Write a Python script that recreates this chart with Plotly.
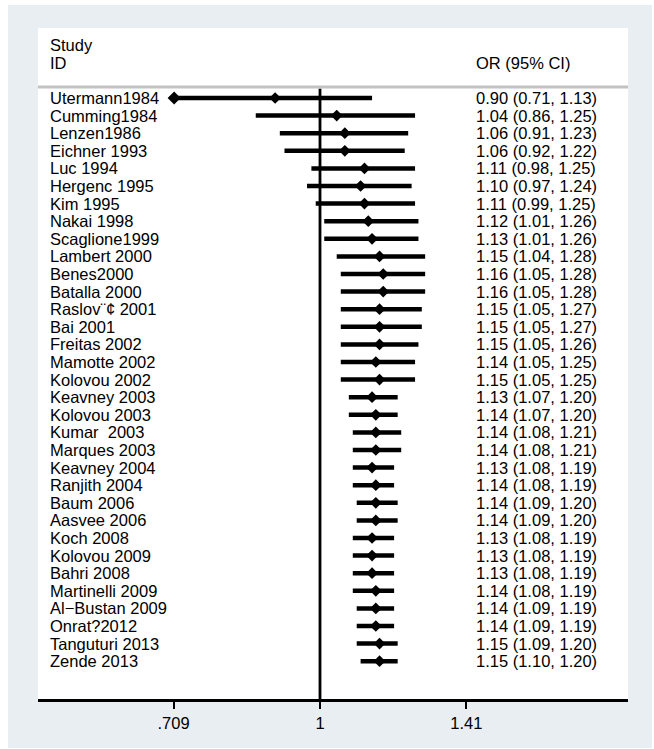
import plotly.graph_objects as go

W, H = 654, 749

studies = [
    "Utermann1984", "Cumming1984", "Lenzen1986", "Eichner 1993", "Luc 1994",
    "Hergenc 1995", "Kim 1995", "Nakai 1998", "Scaglione1999", "Lambert 2000",
    "Benes2000", "Batalla 2000", "Raslov\u00a8\u00a2 2001", "Bai 2001", "Freitas 2002",
    "Mamotte 2002", "Kolovou 2002", "Keavney 2003", "Kolovou 2003", "Kumar \u00a02003",
    "Marques 2003", "Keavney 2004", "Ranjith 2004", "Baum 2006", "Aasvee 2006",
    "Koch 2008", "Kolovou 2009", "Bahri 2008", "Martinelli 2009", "Al\u2212Bustan 2009",
    "Onrat?2012", "Tanguturi 2013", "Zende 2013",
]
or_est = [0.90, 1.04, 1.06, 1.06, 1.11, 1.10, 1.11, 1.12, 1.13, 1.15, 1.16, 1.16, 1.15,
          1.15, 1.15, 1.14, 1.15, 1.13, 1.14, 1.14, 1.14, 1.13, 1.14, 1.14, 1.14, 1.13,
          1.13, 1.13, 1.14, 1.14, 1.14, 1.15, 1.15]
ci_lo = [0.71, 0.86, 0.91, 0.92, 0.98, 0.97, 0.99, 1.01, 1.01, 1.04, 1.05, 1.05, 1.05,
         1.05, 1.05, 1.05, 1.05, 1.07, 1.07, 1.08, 1.08, 1.08, 1.08, 1.09, 1.09, 1.08,
         1.08, 1.08, 1.08, 1.09, 1.09, 1.09, 1.10]
ci_hi = [1.13, 1.25, 1.23, 1.22, 1.25, 1.24, 1.25, 1.26, 1.26, 1.28, 1.28, 1.28, 1.27,
         1.27, 1.26, 1.25, 1.25, 1.20, 1.20, 1.21, 1.21, 1.19, 1.19, 1.20, 1.20, 1.19,
         1.19, 1.19, 1.19, 1.19, 1.19, 1.20, 1.20]
tick_vals = [0.709, 1, 1.41]
tick_text = [".709", "1", "1.41"]

FONT = "Liberation Sans, Arial, sans-serif"
FS = 16.5
rows = list(range(len(studies)))

def px(x):
    return x / W

def py(y):
    return 1 - y / H

# CI line segments
xs, ys = [], []
for i in rows:
    xs += [ci_lo[i], ci_hi[i], None]
    ys += [i, i, None]

fig = go.Figure()
fig.add_trace(go.Scatter(x=xs, y=ys, mode="lines",
                         line=dict(color="black", width=4.5),
                         hoverinfo="skip", showlegend=False))
fig.add_trace(go.Scatter(x=or_est, y=rows, mode="markers",
                         marker=dict(symbol="diamond", size=9, color="black"),
                         showlegend=False))
# marker at the lower end of the first study's CI
fig.add_trace(go.Scatter(x=[ci_lo[0]], y=[0], mode="markers",
                         marker=dict(symbol="diamond", size=10, color="black"),
                         showlegend=False))

annotations = []
for i in rows:
    annotations.append(dict(x=px(48), y=i, xref="paper", yref="y", text=studies[i],
                            showarrow=False, xanchor="left", yanchor="middle",
                            font=dict(family=FONT, size=FS, color="black")))
    annotations.append(dict(x=px(474), y=i, xref="paper", yref="y",
                            text=f"{or_est[i]:.2f} ({ci_lo[i]:.2f}, {ci_hi[i]:.2f})",
                            showarrow=False, xanchor="left", yanchor="middle",
                            font=dict(family=FONT, size=FS, color="black")))
for txt, yy, xx in [("Study", -3.01, 48), ("ID", -1.99, 48), ("OR (95% CI)", -1.99, 474)]:
    annotations.append(dict(x=px(xx), y=yy, xref="paper", yref="y", text=txt,
                            showarrow=False, xanchor="left", yanchor="middle",
                            font=dict(family=FONT, size=FS, color="black")))

shapes = [
    dict(type="rect", xref="paper", yref="paper", x0=px(8), x1=px(652), y0=py(748), y1=py(5),
         fillcolor="#e8eef1", line=dict(width=0), layer="below"),
    dict(type="rect", xref="paper", yref="paper", x0=px(38), x1=px(628), y0=py(700), y1=py(28),
         fillcolor="white", line=dict(width=0), layer="below"),
    dict(type="line", xref="paper", yref="paper", x0=px(38), x1=px(628), y0=py(87), y1=py(87),
         line=dict(color="#c2c2c2", width=3)),
    dict(type="line", xref="x", yref="y", x0=1, x1=1, y0=-0.52, y1=34.15,
         line=dict(color="black", width=2.8)),
]

fig.update_layout(
    width=W, height=H,
    margin=dict(l=0, r=0, t=0, b=0),
    paper_bgcolor="white",
    plot_bgcolor="rgba(0,0,0,0)",
    showlegend=False,
    annotations=annotations,
    shapes=shapes,
    xaxis=dict(type="log", domain=[38 / W, 628 / W], range=[-0.2875, 0.3140],
               showgrid=False, zeroline=False, showline=True, linecolor="black", linewidth=3,
               ticks="outside", ticklen=7, tickwidth=2, tickcolor="black",
               tickvals=tick_vals, ticktext=tick_text,
               tickfont=dict(family=FONT, size=FS, color="black"), anchor="y"),
    yaxis=dict(domain=[1 - 699 / H, 1 - 28 / H], range=[34.148, -3.977],
               showgrid=False, zeroline=False, showline=False, showticklabels=False,
               ticks=""),
)

fig.write_html("out.html")
